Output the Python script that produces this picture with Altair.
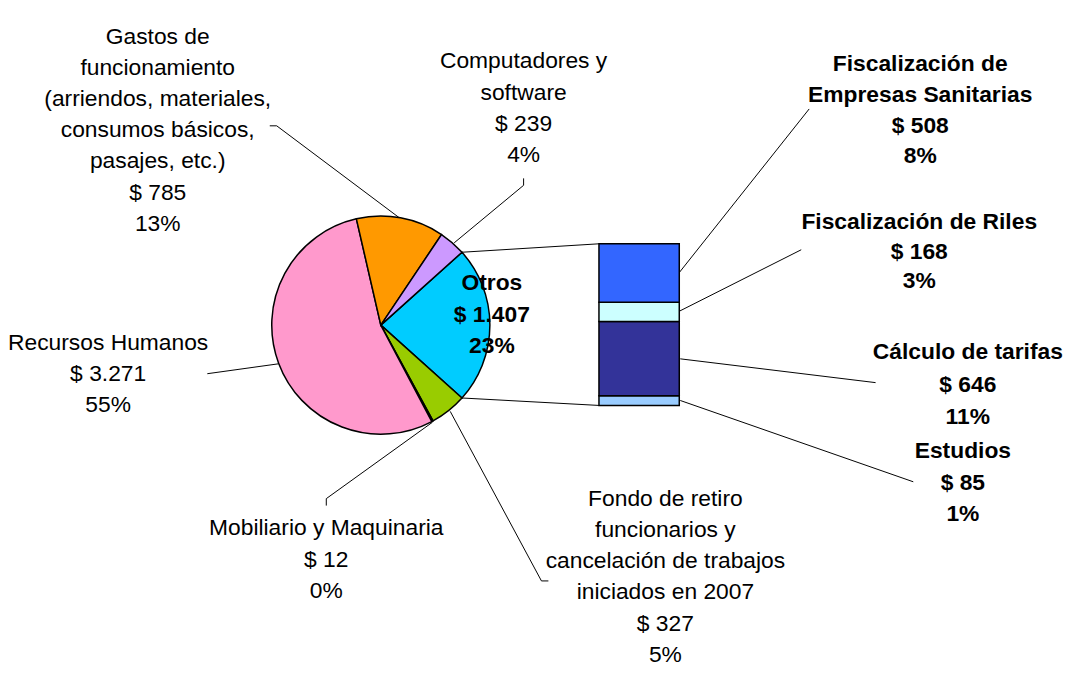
import math
import altair as alt
import pandas as pd

# ---------------- data ----------------
pie_names = [
    "Otros",
    "Fondo de retiro\nfuncionarios y\ncancelación de trabajos\niniciados en 2007",
    "Mobiliario y Maquinaria",
    "Recursos Humanos",
    "Gastos de\nfuncionamiento\n(arriendos, materiales,\nconsumos básicos,\npasajes, etc.)",
    "Computadores y\nsoftware",
]
pie_values = [1407, 327, 12, 3271, 785, 239]
pie_pcts = ["23%", "5%", "0%", "55%", "13%", "4%"]
pie_colors = ["#00CCFF", "#99CC00", "#000000", "#FF99CC", "#FF9900", "#CC99FF"]

bar_names = [
    "Estudios",
    "Cálculo de tarifas",
    "Fiscalización de Riles",
    "Fiscalización de\nEmpresas Sanitarias",
]
bar_values = [85, 646, 168, 508]
bar_pcts = ["1%", "11%", "3%", "8%"]
bar_colors = ["#99CCFF", "#333399", "#CCFFFF", "#3366FF"]

# ---------------- layout (chart pixel coords) ----------------
W, H = 1055, 659
CX, CY, R = 375, 317, 110          # pie centre / radius
BAR_X0, BAR_X1 = 595, 676          # bar left / right
BAR_BOTTOM, BAR_TOP = 398, 235     # bar pixel range
FONT = "Liberation Sans, Arial, sans-serif"
FS = 23
LH = 31.5

# centre x and first-line y of each label block
pie_label_pos = [(487, 275), (662, 492), (320, 522), (100, 335), (150, 26), (519, 51)]
bar_label_pos = [(962, 444), (967, 344), (918, 213), (919, 54)]
bar_label_lh = [32, 33, 30, 31]

leader_lines = [
    [(263, 116), (270, 116), (394, 209)],      # Gastos
    [(519, 169), (519, 176), (449, 234)],      # Computadores
    [(200, 366), (272, 356)],                  # Recursos Humanos
    [(320, 499), (320, 492), (427, 415)],      # Mobiliario
    [(544, 575), (537, 575), (445, 404)],      # Fondo
    [(807, 99), (676, 264)],                   # Fiscalización Empresas
    [(799, 241), (676, 303)],                  # Riles
    [(874, 375), (677, 351)],                  # Cálculo
    [(912, 475), (677, 393)],                  # Estudios
]


def fmt(v):
    return "$ " + f"{v:,}".replace(",", ".")


total = sum(pie_values)
start = math.pi / 2 - math.pi * pie_values[0] / total

pie_df = pd.DataFrame({
    "name": pie_names,
    "value": pie_values,
    "order": list(range(len(pie_values))),
    "color": pie_colors,
})

bar_df = pd.DataFrame({
    "name": bar_names,
    "value": bar_values,
    "order": list(range(len(bar_values))),
    "color": bar_colors,
})

# connector lines from the "Otros" slice to the bar
a0 = start
a1 = start + 2 * math.pi * pie_values[0] / total
seg_rows = [
    dict(x=CX + R * math.sin(a0), y=CY - R * math.cos(a0), x2=BAR_X0, y2=BAR_TOP),
    dict(x=CX + R * math.sin(a1), y=CY - R * math.cos(a1), x2=BAR_X0, y2=BAR_BOTTOM),
]
for pts in leader_lines:
    for p, q in zip(pts[:-1], pts[1:]):
        seg_rows.append(dict(x=p[0], y=p[1], x2=q[0], y2=q[1]))
seg_df = pd.DataFrame(seg_rows)


def label_rows(name, value, pct, pos, lh):
    lines = name.split("\n") + [fmt(value), pct]
    return [dict(text=t, x=pos[0], y=pos[1] + i * lh) for i, t in enumerate(lines)]


normal_rows, bold_rows = [], []
for i, (n, v, p) in enumerate(zip(pie_names, pie_values, pie_pcts)):
    rows = label_rows(n, v, p, pie_label_pos[i], LH)
    (bold_rows if i == 0 else normal_rows).extend(rows)
for i, (n, v, p) in enumerate(zip(bar_names, bar_values, bar_pcts)):
    bold_rows.extend(label_rows(n, v, p, bar_label_pos[i], bar_label_lh[i]))
normal_df = pd.DataFrame(normal_rows)
bold_df = pd.DataFrame(bold_rows)

# ---------------- marks ----------------
pie = alt.Chart(pie_df).mark_arc(outerRadius=R, stroke="black", strokeWidth=1.5).encode(
    theta=alt.Theta("value:Q", stack=True,
                    scale=alt.Scale(range=[start, start + 2 * math.pi])),
    order=alt.Order("order:Q"),
    color=alt.Color("color:N", scale=None),
    x=alt.value(CX),
    y=alt.value(CY),
)

bar = alt.Chart(bar_df).transform_stack(
    stack="value", groupby=[], as_=["lo", "hi"],
    sort=[alt.SortField("order", order="ascending")],
).mark_rect(stroke="black", strokeWidth=1.5).encode(
    x=alt.value(BAR_X0),
    x2=alt.value(BAR_X1),
    y=alt.Y("lo:Q", axis=None,
            scale=alt.Scale(domain=[0, sum(bar_values)], range=[BAR_BOTTOM, BAR_TOP],
                            nice=False, zero=True)),
    y2="hi:Q",
    color=alt.Color("color:N", scale=None),
)

segs = alt.Chart(seg_df).mark_rule(color="black", strokeWidth=1).encode(
    x=alt.X("x:Q", scale=None, axis=None),
    y=alt.Y("y:Q", scale=None, axis=None),
    x2="x2:Q",
    y2="y2:Q",
)

txt_normal = alt.Chart(normal_df).mark_text(
    font=FONT, fontSize=FS, align="center", baseline="middle", color="black",
).encode(
    x=alt.X("x:Q", scale=None, axis=None),
    y=alt.Y("y:Q", scale=None, axis=None),
    text="text:N",
)

txt_bold = alt.Chart(bold_df).mark_text(
    font=FONT, fontSize=FS, fontWeight="bold", align="center", baseline="middle", color="black",
).encode(
    x=alt.X("x:Q", scale=None, axis=None),
    y=alt.Y("y:Q", scale=None, axis=None),
    text="text:N",
)

chart = alt.layer(segs, pie, bar, txt_normal, txt_bold).resolve_scale(
    x="independent", y="independent", theta="independent"
).properties(
    width=W, height=H, padding=0, background="white"
).configure_view(stroke=None)

chart.save("out.html", embed_options={"renderer": "svg", "actions": False})
